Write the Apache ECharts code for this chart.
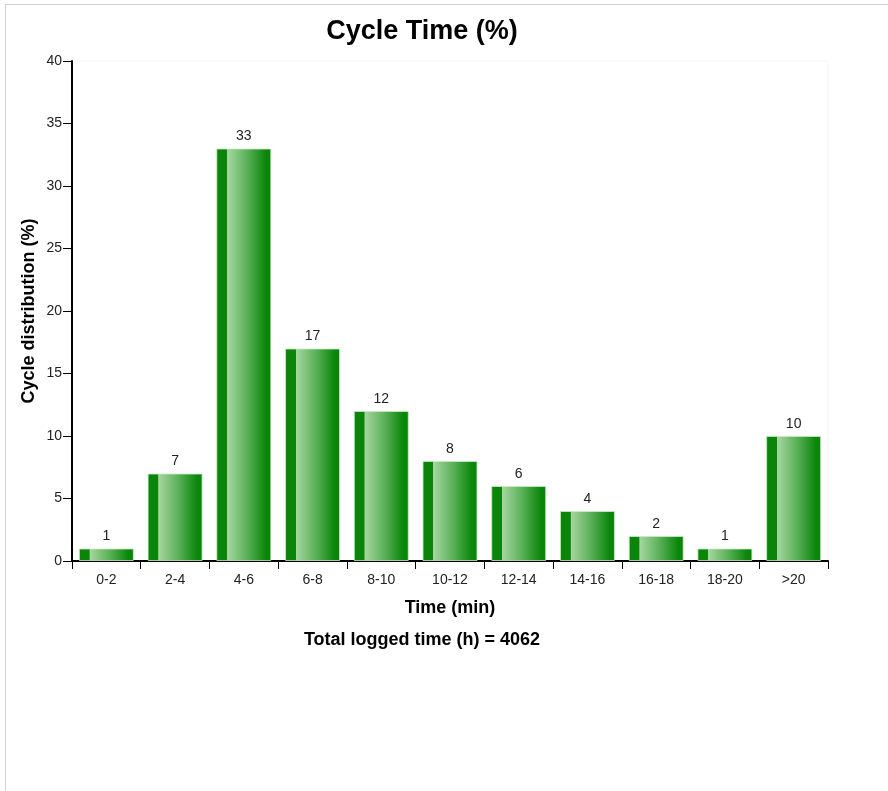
<!DOCTYPE html>
<html><head><meta charset="utf-8">
<script src="https://cdn.jsdelivr.net/npm/echarts@6/dist/echarts.min.js"></script>
<style>
html,body{margin:0;padding:0;background:#fff;}
#frame{position:absolute;left:5px;top:4px;width:883px;height:787px;border-top:1px solid #d0d0d0;border-left:1px solid #d0d0d0;}
#c{position:absolute;left:0;top:0;width:888px;height:791px;}
</style></head>
<body>
<div id="frame"></div>
<div id="c"></div>
<script>
const categories = ['0-2','2-4','4-6','6-8','8-10','10-12','12-14','14-16','16-18','18-20','>20'];
const values = [1,7,33,17,12,8,6,4,2,1,10];
const yTicks = {min:0, max:40, interval:5};
const titleText = 'Cycle Time (%)';
const xName = 'Time (min)';
const yName = 'Cycle distribution (%)';
const footer = 'Total logged time (h) = 4062';

const chart = echarts.init(document.getElementById('c'), null, {renderer:'canvas'});
const grad = new echarts.graphic.LinearGradient(0,0,1,0,[
  {offset:0,color:'#0a850a'},
  {offset:0.19,color:'#0a850a'},
  {offset:0.2,color:'#a6d6a0'},
  {offset:0.55,color:'#5cb25a'},
  {offset:0.9,color:'#0b860b'},
  {offset:1,color:'#0a850a'}
]);
const font = '"Liberation Sans", Arial, sans-serif';
chart.setOption({
  animation:false,
  textStyle:{fontFamily:font},
  title:{text:titleText,left:417,top:13,textAlign:'center',
    textStyle:{fontSize:27,fontWeight:'bold',color:'#000',fontFamily:font}},
  grid:{left:72,top:61,right:60,bottom:230,containLabel:false,show:true,borderColor:'#f4f4f4',borderWidth:1},
  xAxis:{type:'category',data:categories,
    name:xName,nameLocation:'middle',nameGap:38,
    nameTextStyle:{fontSize:18,fontWeight:'bold',color:'#000',fontFamily:font},
    axisLine:{lineStyle:{color:'#000',width:2}},
    axisTick:{show:true,length:8,lineStyle:{color:'#000',width:1}},
    axisLabel:{fontSize:14,color:'#222',margin:12,fontFamily:font},
    splitLine:{show:false}},
  yAxis:{type:'value',min:yTicks.min,max:yTicks.max,interval:yTicks.interval,
    name:yName,nameLocation:'middle',nameGap:34,nameMoveOverlap:false,
    nameTextStyle:{fontSize:18,fontWeight:'bold',color:'#000',fontFamily:font},
    axisLine:{show:true,lineStyle:{color:'#000',width:2}},
    axisTick:{show:true,length:9,lineStyle:{color:'#000',width:1}},
    axisLabel:{fontSize:14,color:'#222',margin:10,fontFamily:font},
    splitLine:{show:false}},
  series:[{type:'bar',data:values,barCategoryGap:'20%',
    itemStyle:{color:grad,borderColor:'rgba(200,235,195,0.8)',borderWidth:1},
    label:{show:true,position:'top',distance:5,fontSize:14,color:'#222',fontFamily:font}}],
  graphic:[{type:'text',x:422,y:640,
    style:{text:footer,align:'center',verticalAlign:'middle',fill:'#000',font:'bold 18px "Liberation Sans", Arial, sans-serif'}}]
});
</script>
</body></html>
